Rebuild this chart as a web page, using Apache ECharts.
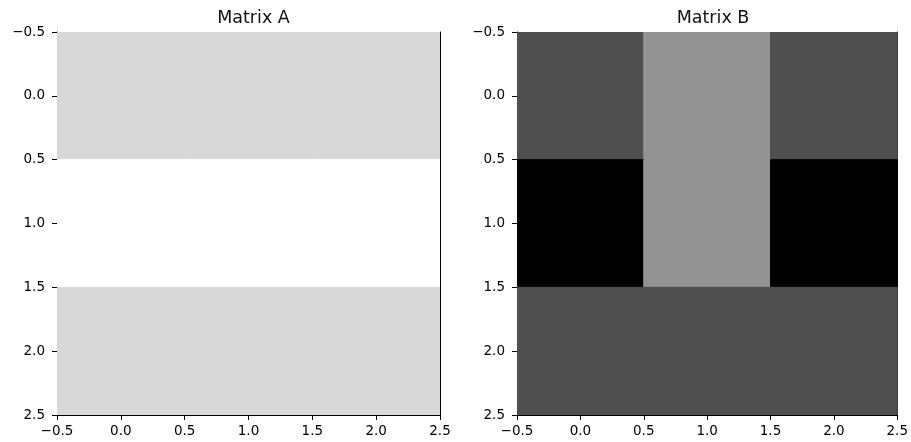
<!DOCTYPE html>
<html>
<head>
<meta charset="utf-8">
<script src="https://cdn.jsdelivr.net/npm/echarts@6/dist/echarts.min.js"></script>
<style>
  html, body { margin: 0; padding: 0; background: #fff; }
  #chart { width: 911px; height: 442px; }
</style>
</head>
<body>
<div id="chart"></div>
<script>
// Grey levels of each cell (0 = black, 1 = white), row by row
const matrixA = [
  [0.847, 0.847, 0.847],
  [1.0, 1.0, 1.0],
  [0.847, 0.847, 0.847]
];
const matrixB = [
  [0.31, 0.576, 0.31],
  [0.0, 0.576, 0.0],
  [0.31, 0.31, 0.31]
];
const titles = ['Matrix A', 'Matrix B'];
const axisMin = -0.5;
const axisMax = 2.5;
const tickStep = 0.5;

function toCells(m) {
  const out = [];
  m.forEach((row, r) => row.forEach((v, c) => out.push([c, r, v])));
  return out;
}

const FONT = 'DejaVu Sans';
const fmt = v => v.toFixed(1).replace('-', '\u2212');

const grids = [
  { left: 57, top: 32, width: 383, height: 383 },
  { left: 517, top: 32, width: 382, height: 383 }
];

const xAxes = [], yAxes = [];
grids.forEach((g, i) => {
  xAxes.push({
    type: 'value', gridIndex: i, min: axisMin, max: axisMax, interval: tickStep,
    position: 'bottom',
    axisLine: { show: true, onZero: false, lineStyle: { color: '#000', width: 1 } },
    axisTick: { show: true, length: 5, lineStyle: { color: '#000' } },
    axisLabel: { show: true, margin: 9, color: '#000', fontFamily: FONT, fontSize: 13.5, formatter: fmt },
    splitLine: { show: false }
  });
  xAxes.push({
    type: 'value', gridIndex: i, min: axisMin, max: axisMax, interval: tickStep,
    position: 'top',
    axisLine: { show: true, onZero: false, lineStyle: { color: '#000', width: 1 } },
    axisTick: { show: false }, axisLabel: { show: false }, splitLine: { show: false }
  });
  yAxes.push({
    type: 'value', gridIndex: i, min: axisMin, max: axisMax, interval: tickStep,
    inverse: true, position: 'left',
    axisLine: { show: true, onZero: false, lineStyle: { color: '#000', width: 1 } },
    axisTick: { show: true, length: 5, lineStyle: { color: '#000' } },
    axisLabel: { show: true, margin: 12, color: '#000', fontFamily: FONT, fontSize: 13.5, formatter: fmt },
    splitLine: { show: false }
  });
  yAxes.push({
    type: 'value', gridIndex: i, min: axisMin, max: axisMax, interval: tickStep,
    inverse: true, position: 'right',
    axisLine: { show: true, onZero: false, lineStyle: { color: '#000', width: 1 } },
    axisTick: { show: false }, axisLabel: { show: false }, splitLine: { show: false }
  });
});

// Each cell is a rectangle spanning value ± 0.5 on both axes; a thin stroke
// in the fill colour hides anti-aliasing seams between neighbouring cells.
function renderCell(params, api) {
  const x = api.value(0), y = api.value(1);
  const p0 = api.coord([x - 0.5, y - 0.5]);
  const p1 = api.coord([x + 0.5, y + 0.5]);
  const color = api.visual('color');
  return {
    type: 'rect',
    shape: {
      x: Math.min(p0[0], p1[0]), y: Math.min(p0[1], p1[1]),
      width: Math.abs(p1[0] - p0[0]), height: Math.abs(p1[1] - p0[1])
    },
    style: { fill: color, stroke: color, lineWidth: 1 }
  };
}

const option = {
  backgroundColor: '#fff',
  animation: false,
  title: titles.map((t, i) => ({
    text: t,
    left: grids[i].left + grids[i].width / 2,
    textAlign: 'center',
    top: 4,
    textStyle: { fontFamily: FONT, fontSize: 17.5, fontWeight: 'normal', color: '#111' }
  })),
  grid: grids,
  xAxis: xAxes,
  yAxis: yAxes,
  visualMap: {
    type: 'continuous', show: false, min: 0, max: 1, dimension: 2,
    seriesIndex: [0, 1],
    inRange: { color: ['#000000', '#ffffff'] }
  },
  series: [matrixA, matrixB].map((m, i) => ({
    type: 'custom',
    xAxisIndex: i * 2,
    yAxisIndex: i * 2,
    renderItem: renderCell,
    encode: { x: 0, y: 1 },
    data: toCells(m),
    clip: true,
    z: 1
  }))
};

echarts.init(document.getElementById('chart'), null, { renderer: 'canvas' }).setOption(option);
</script>
</body>
</html>
